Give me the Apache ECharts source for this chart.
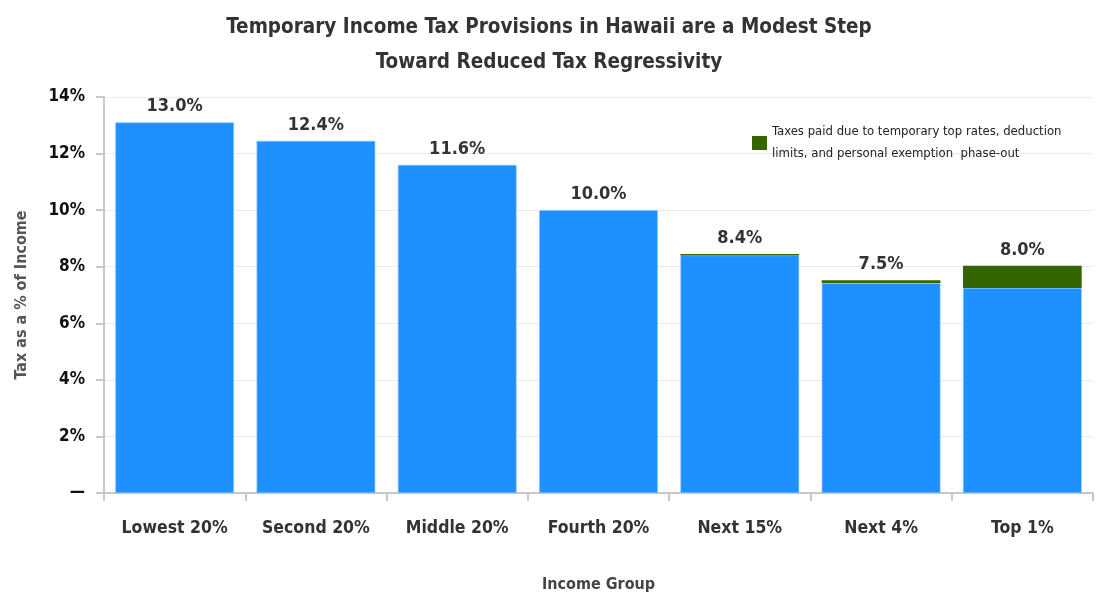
<!DOCTYPE html>
<html>
<head>
<meta charset="utf-8">
<script src="https://cdn.jsdelivr.net/npm/echarts@6/dist/echarts.min.js"></script>
<style>
  html, body { margin: 0; padding: 0; background: #fff; }
  #chart { width: 1098px; height: 598px; }
</style>
</head>
<body>
<div id="chart"></div>
<script>
// income groups
const groups = ['Lowest 20%', 'Second 20%', 'Middle 20%', 'Fourth 20%', 'Next 15%', 'Next 4%', 'Top 1%'];
// tax share without the temporary provisions (blue)
const baseTax = [13.1, 12.45, 11.6, 10.0, 8.4, 7.42, 7.25];
// extra from temporary top rates etc (green)
const tempTax = [0, 0, 0, 0, 0.05, 0.1, 0.78];
// labels printed over the bars
const totalLabels = ['13.0%', '12.4%', '11.6%', '10.0%', '8.4%', '7.5%', '8.0%'];

const font = '"Liberation Sans Narrow", "DejaVu Sans Condensed", sans-serif';
const chart = echarts.init(document.getElementById('chart'));

chart.setOption({
  backgroundColor: '#ffffff',
  animation: false,
  title: {
    text: 'Temporary Income Tax Provisions in Hawaii are a Modest Step\nToward Reduced Tax Regressivity',
    left: 'center',
    top: 5,
    textStyle: {
      fontFamily: font,
      fontWeight: 'bold',
      fontSize: 20.5,
      lineHeight: 35,
      color: '#333333'
    }
  },
  legend: {
    data: ['temp'],
    left: 747,
    top: 116,
    icon: 'rect',
    itemWidth: 15,
    itemHeight: 14,
    itemGap: 6,
    formatter: () => 'Taxes paid due to temporary top rates, deduction\nlimits, and personal exemption  phase-out',
    textStyle: {fontFamily: font, fontSize: 13, lineHeight: 22, color: '#222222'}
  },
  grid: {left: 104, right: 5, top: 97, bottom: 98},
  xAxis: {
    type: 'category',
    data: groups,
    name: 'Income Group',
    nameLocation: 'middle',
    nameGap: 84,
    nameTextStyle: {fontFamily: font, fontWeight: 'bold', fontSize: 16, color: '#444444'},
    axisLine: {lineStyle: {color: '#c8c8c8', width: 2}},
    axisTick: {show: true, length: 8, lineStyle: {color: '#c8c8c8', width: 2}},
    axisLabel: {
      interval: 0,
      margin: 26,
      fontFamily: font,
      fontWeight: 'bold',
      fontSize: 17.5,
      color: '#333333'
    }
  },
  yAxis: {
    type: 'value',
    min: 0,
    max: 14,
    interval: 2,
    name: 'Tax as a % of Income',
    nameLocation: 'middle',
    nameGap: 74,
    nameTextStyle: {fontFamily: font, fontWeight: 'bold', fontSize: 16, color: '#555555'},
    axisLine: {show: true, lineStyle: {color: '#c8c8c8', width: 2}},
    axisTick: {show: true, length: 8, lineStyle: {color: '#c8c8c8', width: 2}},
    splitLine: {lineStyle: {color: '#ebebeb', width: 1}},
    axisLabel: {
      margin: 19,
      fontFamily: font,
      fontWeight: 'bold',
      fontSize: 17,
      color: '#111111',
      formatter: v => v === 0 ? '—' : v + '%'
    }
  },
  series: [
    {
      name: 'base',
      type: 'bar',
      stack: 'tax',
      data: baseTax,
      barWidth: '84%',
      itemStyle: {color: '#1e90ff', borderColor: '#8cc4ff', borderWidth: 0.6}
    },
    {
      name: 'temp',
      type: 'bar',
      stack: 'tax',
      data: tempTax,
      barWidth: '84%',
      itemStyle: {color: '#336600'},
      label: {
        show: true,
        position: 'top',
        distance: 7,
        fontFamily: font,
        fontWeight: 'bold',
        fontSize: 18,
        color: '#333333',
        formatter: p => totalLabels[p.dataIndex]
      }
    }
  ]
});
</script>
</body>
</html>
